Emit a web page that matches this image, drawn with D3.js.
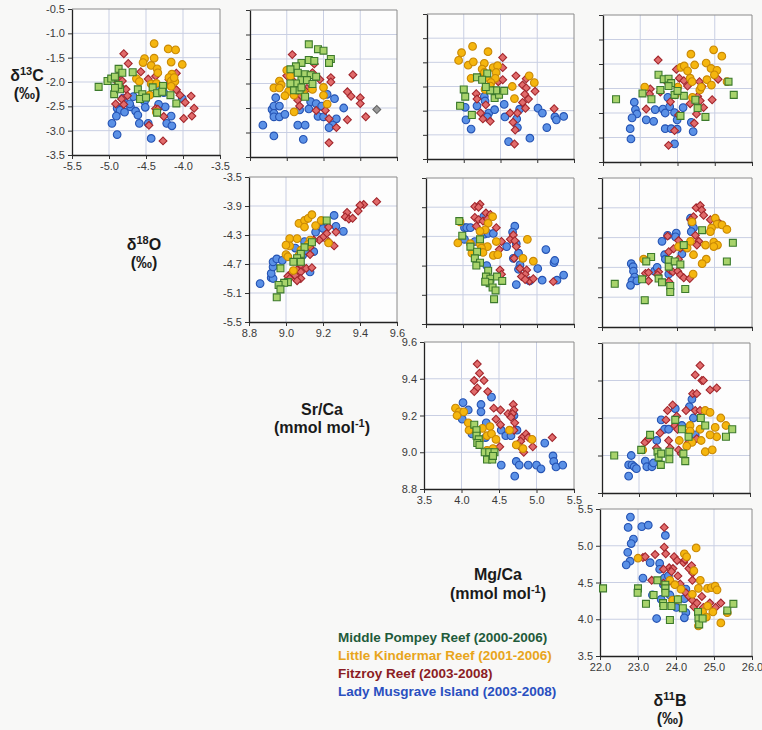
<!DOCTYPE html>
<html>
<head>
<meta charset="utf-8">
<script src="https://cdn.jsdelivr.net/npm/d3@7"></script>
<style>
  body { margin: 0; background: #f8f8f7; }
  svg { display: block; font-family: "Liberation Sans", Arial, sans-serif; }
</style>
</head>
<body>
<svg id="chart" width="762" height="730"></svg>
<script>
// ---- Reefs (series) ----
const reefNames = [
  "Middle Pompey Reef (2000-2006)",
  "Little Kindermar Reef (2001-2006)",
  "Fitzroy Reef (2003-2008)",
  "Lady Musgrave Island (2003-2008)"
];

// ---- Axis tick values ----
const ticks_d13C = [-3.5, -3.0, -2.5, -2.0, -1.5, -1.0, -0.5];
const ticks_d18O_x = [-5.5, -5.0, -4.5, -4.0, -3.5];
const ticks_d18O_y = [-5.5, -5.1, -4.7, -4.3, -3.9, -3.5];
const ticks_SrCa = [8.8, 9.0, 9.2, 9.4, 9.6];
const ticks_MgCa = [3.5, 4.0, 4.5, 5.0, 5.5];
const ticks_d11B = [22.0, 23.0, 24.0, 25.0, 26.0];

// ---- δ13C (y) vs δ18O (x) ----
const c13_o18_pompey = [[-5.14,-2.10],[-5.02,-1.98],[-4.97,-1.93],[-4.92,-1.89],[-4.87,-1.73],[-4.93,-2.25],[-4.85,-2.15],[-4.82,-1.81],[-4.87,-2.06],[-4.68,-1.80],[-4.61,-2.15],[-4.55,-2.25],[-4.58,-2.35],[-4.50,-2.32],[-4.41,-2.11],[-4.35,-2.23],[-4.27,-2.08],[-4.28,-2.20],[-4.17,-2.27],[-4.09,-2.44],[-4.35,-2.63],[-4.92,-2.12]];
const c13_o18_kindermar = [[-4.39,-1.21],[-4.20,-1.32],[-4.10,-1.34],[-4.39,-1.51],[-4.52,-1.52],[-4.54,-1.60],[-4.16,-1.59],[-4.01,-1.64],[-4.43,-1.66],[-4.35,-1.73],[-4.34,-1.81],[-4.15,-1.84],[-4.19,-1.91],[-4.63,-1.93],[-4.59,-1.99],[-4.43,-2.04],[-4.36,-2.03],[-4.16,-1.98],[-4.11,-1.99],[-4.16,-2.09],[-4.45,-2.27],[-4.36,-2.62],[-4.12,-1.91]];
const c13_o18_fitzroy = [[-4.80,-1.42],[-4.74,-1.62],[-4.57,-1.79],[-4.86,-1.84],[-4.88,-2.01],[-4.82,-1.98],[-4.83,-2.11],[-4.77,-2.15],[-4.75,-2.28],[-4.83,-2.35],[-4.80,-2.46],[-4.91,-2.45],[-4.47,-1.94],[-4.37,-1.88],[-4.19,-1.95],[-4.09,-1.82],[-4.17,-2.03],[-4.09,-2.16],[-4.04,-2.27],[-3.89,-2.29],[-3.97,-2.42],[-3.85,-2.54],[-3.88,-2.70],[-3.99,-2.75],[-4.26,-2.71],[-4.37,-2.55],[-4.46,-2.89],[-4.27,-3.21],[-4.34,-2.56]];
const c13_o18_musgrave = [[-4.89,-2.54],[-4.85,-2.58],[-4.90,-2.70],[-4.79,-2.62],[-4.71,-2.51],[-4.67,-2.30],[-4.64,-2.60],[-4.61,-2.68],[-4.96,-2.85],[-4.89,-3.08],[-4.59,-2.85],[-4.52,-2.40],[-4.51,-2.52],[-4.35,-2.16],[-4.26,-2.22],[-4.24,-2.51],[-4.33,-2.46],[-4.22,-2.85],[-4.15,-2.90],[-4.16,-2.70],[-4.47,-2.85],[-4.43,-3.16],[-4.01,-2.34],[-4.81,-2.33],[-4.72,-2.45]];

// ---- δ13C (y) vs Sr/Ca (x) ----
const c13_sr_pompey = [[9.12,-1.20],[9.17,-1.30],[9.20,-1.33],[9.24,-1.50],[9.23,-1.58],[9.12,-1.52],[9.15,-1.54],[9.08,-1.58],[9.05,-1.65],[9.02,-1.71],[9.06,-1.78],[9.10,-1.81],[9.13,-1.83],[9.16,-1.86],[9.08,-1.93],[9.11,-1.93],[9.14,-2.01],[9.05,-2.00],[9.02,-2.00],[9.04,-2.14],[9.07,-2.14],[9.10,-2.27],[9.08,-2.08]];
const c13_sr_kindermar = [[9.00,-1.73],[8.96,-1.95],[8.97,-2.03],[8.93,-2.09],[8.96,-2.09],[9.01,-2.16],[8.99,-2.25],[9.04,-2.24],[9.09,-2.18],[9.14,-2.12],[9.20,-2.08],[9.20,-2.24],[9.22,-2.42],[9.04,-2.58],[9.02,-1.85]];
const c13_sr_fitzroy = [[9.03,-1.41],[9.15,-1.60],[9.00,-1.84],[9.14,-1.78],[9.18,-1.92],[9.24,-1.88],[9.24,-1.97],[9.36,-1.82],[9.04,-1.97],[9.06,-2.03],[9.08,-2.07],[9.11,-2.10],[9.03,-2.10],[9.07,-2.27],[9.06,-2.34],[9.07,-2.46],[9.33,-2.17],[9.35,-2.26],[9.40,-2.29],[9.40,-2.41],[9.16,-2.55],[9.21,-2.55],[9.23,-2.72],[9.33,-2.74],[9.43,-2.68],[9.27,-2.90],[9.23,-3.21],[9.10,-2.15]];
const c13_sr_musgrave = [[8.94,-2.29],[8.92,-2.53],[8.93,-2.46],[8.96,-2.46],[8.93,-2.61],[8.93,-2.68],[8.96,-2.68],[8.99,-2.63],[8.87,-2.85],[8.93,-3.07],[9.06,-2.85],[9.10,-2.85],[9.09,-3.14],[9.07,-2.54],[9.12,-2.52],[9.13,-2.37],[9.16,-2.41],[9.19,-2.46],[9.22,-2.22],[9.26,-2.31],[9.31,-2.50],[9.17,-2.67],[9.20,-2.68],[9.27,-2.72],[9.25,-2.85],[9.23,-2.90]];
const c13_sr_unassigned = [[9.49,-2.53]];

// ---- δ13C (y) vs Mg/Ca (x) ----
const c13_mg_pompey = [[4.32,-1.73],[4.18,-1.81],[4.00,-2.06],[4.02,-2.21],[3.95,-2.40],[4.11,-2.59],[4.42,-2.24],[4.48,-2.17],[4.55,-2.09],[4.44,-2.08],[4.36,-2.08],[4.25,-1.86],[4.30,-2.01]];
const c13_mg_kindermar = [[3.97,-1.30],[4.12,-1.17],[4.33,-1.28],[3.93,-1.46],[4.06,-1.56],[4.13,-1.49],[4.28,-1.52],[4.25,-1.64],[4.40,-1.61],[4.46,-1.57],[4.28,-1.71],[4.44,-1.71],[4.10,-1.83],[4.31,-1.81],[4.43,-1.83],[4.37,-1.92],[4.29,-2.06],[4.36,-1.99],[4.66,-2.00],[4.89,-1.78],[4.96,-1.92],[4.69,-2.25]];
const c13_mg_fitzroy = [[4.53,-1.40],[4.53,-1.61],[4.22,-1.81],[4.47,-1.90],[4.53,-1.86],[4.71,-1.78],[4.85,-1.84],[4.80,-1.97],[4.85,-2.03],[4.97,-2.10],[4.83,-2.16],[4.88,-2.26],[4.80,-2.33],[4.84,-2.45],[4.63,-2.55],[4.73,-2.55],[4.17,-2.15],[4.18,-2.26],[4.30,-2.38],[4.23,-2.55],[4.26,-2.67],[4.36,-2.72],[4.67,-2.74],[4.70,-2.90],[4.69,-3.19],[5.23,-2.46]];
const c13_mg_musgrave = [[4.02,-2.43],[4.18,-2.40],[4.28,-2.21],[4.29,-2.30],[4.03,-2.69],[4.10,-2.88],[4.34,-2.55],[4.42,-2.48],[4.32,-2.63],[4.55,-2.37],[4.56,-2.63],[4.72,-2.67],[4.76,-2.47],[4.73,-2.85],[4.61,-3.14],[4.90,-3.07],[5.01,-2.45],[5.07,-2.55],[5.13,-2.85],[5.24,-2.63],[5.26,-2.69],[5.36,-2.62]];

// ---- δ13C (y) vs δ11B (x) ----
const c13_b11_pompey = [[22.35,-2.22],[23.06,-2.10],[23.30,-2.22],[23.49,-1.72],[23.63,-1.81],[23.76,-1.80],[23.83,-1.89],[23.54,-2.03],[23.92,-2.13],[24.17,-2.15],[24.08,-2.56],[24.48,-2.23],[24.54,-2.40],[24.75,-2.58],[25.37,-1.86],[25.51,-2.13],[23.76,-1.95],[24.00,-2.05]];
const c13_b11_kindermar = [[23.12,-1.97],[24.09,-1.57],[24.18,-1.54],[24.36,-1.30],[24.46,-1.52],[24.27,-1.64],[24.34,-1.79],[24.39,-1.86],[24.60,-2.03],[24.64,-1.97],[24.77,-1.48],[24.90,-1.59],[24.97,-1.21],[25.19,-1.34],[25.06,-1.63],[24.99,-1.72],[24.79,-1.82],[24.91,-1.93],[25.33,-1.86],[24.01,-1.97],[23.94,-2.13],[24.40,-2.18]];
const c13_b11_fitzroy = [[23.48,-1.42],[23.97,-1.61],[23.27,-2.01],[23.25,-2.11],[23.54,-2.07],[23.74,-1.89],[24.05,-1.79],[24.17,-1.84],[24.27,-1.95],[24.59,-1.86],[24.66,-1.96],[25.09,-1.81],[24.54,-2.16],[24.61,-2.25],[24.93,-2.23],[24.70,-2.39],[24.34,-2.31],[24.51,-2.52],[24.45,-2.71],[23.81,-2.27],[23.16,-2.42],[24.03,-2.54],[23.92,-2.86],[23.76,-3.16]];
const c13_b11_musgrave = [[22.84,-2.28],[22.87,-2.43],[22.91,-2.52],[22.78,-2.60],[22.73,-2.82],[22.75,-3.03],[23.16,-2.64],[23.36,-2.67],[23.40,-2.43],[23.61,-2.42],[23.67,-2.50],[23.79,-2.37],[23.74,-2.18],[24.15,-2.39],[23.92,-2.49],[23.99,-2.64],[23.67,-2.82],[23.83,-2.82],[23.99,-2.83],[23.92,-3.13],[24.42,-2.88],[24.37,-2.69]];

// ---- δ18O (y) vs Sr/Ca (x) ----
const o18_sr_pompey = [[9.22,-4.10],[9.14,-4.40],[9.10,-4.47],[9.08,-4.56],[9.06,-4.62],[9.04,-4.67],[8.97,-4.76],[9.01,-4.95],[8.99,-4.96],[8.96,-4.99],[8.97,-5.05],[8.95,-5.16],[9.08,-4.67]];
const o18_sr_kindermar = [[9.07,-4.14],[9.10,-4.10],[9.12,-4.07],[9.14,-4.02],[9.10,-4.19],[9.16,-4.17],[9.19,-4.10],[9.02,-4.35],[9.06,-4.35],[9.02,-4.45],[9.00,-4.44],[9.13,-4.37],[9.12,-4.43],[9.08,-4.51],[9.00,-4.57],[9.01,-4.60],[9.07,-4.58],[9.23,-4.41],[9.04,-4.79]];
const o18_sr_fitzroy = [[9.49,-3.84],[9.42,-3.88],[9.40,-3.89],[9.39,-3.97],[9.33,-3.99],[9.32,-4.05],[9.34,-4.08],[9.36,-4.07],[9.23,-4.19],[9.27,-4.26],[9.22,-4.28],[9.20,-4.33],[9.23,-4.39],[9.26,-4.45],[9.18,-4.37],[9.15,-4.37],[9.13,-4.47],[9.13,-4.57],[9.08,-4.71],[9.11,-4.76],[9.06,-4.78],[9.08,-4.81],[9.03,-4.82],[9.05,-4.86],[9.01,-4.87],[9.08,-4.90],[9.06,-4.93],[9.02,-4.90],[9.14,-4.75]];
const o18_sr_musgrave = [[8.86,-4.97],[8.92,-4.89],[8.93,-4.90],[8.92,-4.83],[8.93,-4.74],[8.93,-4.67],[8.95,-4.63],[8.98,-4.65],[9.05,-4.48],[9.10,-4.39],[9.09,-4.58],[9.12,-4.53],[9.15,-4.53],[9.16,-4.26],[9.20,-4.16],[9.20,-4.21],[9.26,-4.03],[9.27,-4.18],[9.31,-4.25],[9.13,-4.81]];

// ---- δ18O (y) vs Mg/Ca (x) ----
const o18_mg_pompey = [[3.95,-4.09],[3.99,-4.29],[4.23,-4.34],[4.10,-4.44],[4.19,-4.51],[4.16,-4.60],[4.23,-4.66],[4.18,-4.70],[4.34,-4.77],[4.31,-4.85],[4.37,-4.88],[4.46,-4.85],[4.53,-4.91],[4.36,-4.94],[4.40,-5.00],[4.44,-5.04],[4.42,-5.16],[4.30,-4.92]];
const o18_mg_kindermar = [[3.96,-4.10],[4.40,-4.03],[4.34,-4.12],[4.30,-4.21],[4.23,-4.23],[3.93,-4.39],[4.10,-4.40],[4.23,-4.40],[4.33,-4.44],[4.25,-4.46],[4.12,-4.53],[4.27,-4.52],[4.45,-4.37],[4.41,-4.56],[4.47,-4.55],[4.81,-4.60],[4.87,-4.34],[4.95,-4.64]];
const o18_mg_fitzroy = [[4.16,-3.89],[4.23,-3.86],[4.21,-3.90],[4.31,-3.98],[4.37,-4.00],[4.16,-4.04],[4.21,-4.07],[4.27,-4.09],[4.33,-4.06],[4.18,-4.16],[4.45,-4.18],[4.52,-4.37],[4.64,-4.34],[4.68,-4.28],[4.70,-4.36],[4.72,-4.44],[4.49,-4.48],[4.69,-4.60],[4.50,-4.76],[4.52,-4.82],[4.77,-4.74],[4.86,-4.76],[4.84,-4.82],[4.79,-4.85],[4.90,-4.91],[4.95,-4.88],[4.84,-4.89],[5.22,-4.92]];
const o18_mg_musgrave = [[4.28,-4.03],[4.02,-4.18],[4.05,-4.18],[4.10,-4.18],[4.02,-4.34],[4.16,-4.37],[4.29,-4.27],[4.34,-4.26],[4.41,-4.26],[4.18,-4.52],[4.32,-4.70],[4.70,-4.16],[4.67,-4.24],[4.59,-4.44],[4.72,-4.40],[4.75,-4.53],[4.68,-4.60],[4.77,-4.69],[4.75,-4.75],[4.72,-4.96],[4.90,-4.91],[5.01,-4.74],[5.07,-4.90],[5.12,-4.48],[5.23,-4.66],[5.24,-4.63],[5.27,-4.90],[5.36,-4.83]];

// ---- δ18O (y) vs δ11B (x) ----
const o18_b11_pompey = [[24.67,-4.20],[25.49,-4.37],[25.33,-4.62],[23.31,-4.56],[23.18,-4.62],[23.78,-4.60],[23.78,-4.69],[23.94,-4.62],[24.09,-4.66],[24.18,-4.40],[23.07,-4.86],[23.51,-4.85],[23.60,-4.90],[23.82,-4.95],[23.82,-5.03],[24.22,-4.99],[23.14,-5.14],[22.34,-4.92]];
const o18_b11_kindermar = [[24.40,-4.09],[25.02,-4.04],[25.07,-4.12],[25.20,-4.13],[25.33,-4.19],[24.92,-4.17],[24.89,-4.22],[24.36,-4.35],[24.76,-4.40],[24.98,-4.36],[25.08,-4.40],[24.98,-4.42],[24.27,-4.44],[24.44,-4.53],[24.78,-4.59],[24.67,-4.65],[24.43,-4.79],[23.11,-4.59],[24.04,-4.42]];
const o18_b11_fitzroy = [[24.51,-3.90],[24.62,-3.87],[24.66,-3.93],[24.71,-4.00],[24.44,-4.02],[24.37,-4.06],[24.89,-4.06],[25.07,-4.08],[25.16,-4.12],[23.75,-4.28],[24.04,-4.34],[24.49,-4.27],[24.58,-4.35],[24.53,-4.40],[23.78,-4.49],[23.91,-4.45],[24.09,-4.44],[24.04,-4.59],[23.82,-4.74],[23.89,-4.76],[24.02,-4.75],[24.09,-4.80],[24.18,-4.84],[24.34,-4.85],[23.16,-4.78],[23.24,-4.77],[23.51,-4.76],[23.48,-4.80],[23.24,-4.88],[23.78,-4.89]];
const o18_b11_musgrave = [[22.78,-4.65],[22.83,-4.69],[22.84,-4.75],[22.87,-4.83],[22.80,-4.88],[22.76,-4.94],[22.93,-4.88],[23.40,-4.75],[23.47,-4.70],[23.60,-4.35],[23.75,-4.27],[23.98,-4.24],[23.96,-4.29],[23.67,-4.53],[23.69,-4.59],[23.78,-4.79],[24.13,-4.52],[24.36,-4.04],[24.40,-4.11],[24.44,-4.17],[24.38,-4.22]];

// ---- Sr/Ca (y) vs Mg/Ca (x) ----
const sr_mg_pompey = [[4.17,9.15],[4.20,9.12],[4.20,9.09],[4.23,9.07],[4.21,9.05],[4.24,9.04],[4.31,9.00],[4.37,9.00],[4.44,9.00],[4.34,8.96],[4.41,8.96],[4.42,8.98]];
const sr_mg_kindermar = [[3.92,9.24],[3.97,9.22],[3.94,9.20],[4.03,9.22],[4.09,9.16],[4.10,9.12],[4.20,9.11],[4.24,9.07],[4.28,9.13],[4.38,9.14],[4.34,9.09],[4.40,9.10],[4.46,9.07],[4.34,9.01],[4.42,9.02],[4.64,9.12],[4.73,9.04],[4.82,9.02],[4.94,9.07]];
const sr_mg_fitzroy = [[4.21,9.48],[4.24,9.43],[4.17,9.39],[4.30,9.39],[4.21,9.35],[4.17,9.33],[4.35,9.33],[4.43,9.24],[4.52,9.23],[4.46,9.18],[4.52,9.15],[4.62,9.21],[4.69,9.26],[4.70,9.23],[4.68,9.21],[4.66,9.19],[4.71,9.16],[4.70,9.12],[4.51,9.03],[4.81,9.08],[4.86,9.10],[4.79,9.06],[4.78,9.03],[4.83,9.00],[4.89,9.08],[4.95,9.03],[5.21,9.08]];
const sr_mg_musgrave = [[4.02,9.27],[4.09,9.23],[4.01,9.18],[4.14,9.10],[4.26,9.26],[4.26,9.22],[4.33,9.16],[4.32,9.08],[4.40,9.30],[4.53,9.12],[4.59,9.09],[4.66,9.09],[4.74,9.12],[4.70,9.20],[4.53,8.93],[4.73,8.95],[4.77,8.93],[4.71,8.87],[4.89,8.93],[5.00,8.93],[5.06,8.91],[5.11,9.05],[5.22,8.98],[5.23,8.95],[5.26,8.92],[5.35,8.93]];

// ---- Sr/Ca (y) vs δ11B (x) ----
const sr_b11_pompey = [[22.33,9.00],[23.06,9.03],[23.30,9.11],[23.50,9.02],[23.53,8.99],[23.60,9.01],[23.59,8.95],[23.82,8.98],[23.82,9.02],[23.98,9.19],[24.16,9.14],[24.25,8.97],[24.20,9.01],[24.34,9.10],[24.67,9.20],[24.79,9.16],[25.35,9.10],[25.52,9.14]];
const sr_b11_kindermar = [[23.10,9.03],[24.38,9.16],[24.65,9.14],[24.79,9.24],[24.92,9.23],[25.21,9.20],[25.35,9.16],[25.06,9.15],[25.10,9.10],[24.92,9.11],[24.68,9.08],[24.43,9.07],[24.29,9.05],[24.09,9.08],[24.79,9.02],[24.98,9.03],[24.38,9.13]];
const sr_b11_fitzroy = [[24.65,9.48],[24.52,9.43],[24.70,9.40],[24.74,9.40],[24.92,9.35],[25.10,9.36],[24.45,9.33],[24.56,9.33],[23.91,9.27],[23.77,9.24],[24.02,9.21],[23.73,9.19],[24.27,9.24],[24.52,9.24],[24.65,9.24],[23.97,9.16],[24.04,9.14],[23.57,9.12],[23.21,9.08],[23.16,9.07],[23.26,9.09],[23.47,9.04],[23.80,9.08],[23.84,9.04],[24.07,9.03],[24.14,9.01],[24.34,9.07],[24.56,9.09]];
const sr_b11_musgrave = [[22.79,9.00],[22.72,8.95],[22.81,8.95],[22.87,8.94],[22.72,8.89],[22.93,8.93],[23.17,8.97],[23.21,8.94],[23.35,8.94],[23.39,8.96],[23.48,9.08],[23.60,9.19],[23.69,9.14],[23.80,9.14],[23.98,9.25],[24.16,9.16],[24.36,9.26],[24.43,9.30],[24.47,9.20],[24.52,9.11]];

// ---- Mg/Ca (y) vs δ11B (x) ----
const mg_b11_pompey = [[22.08,4.42],[23.00,4.42],[22.99,4.36],[23.21,4.21],[23.41,4.33],[23.51,4.53],[23.72,4.47],[23.72,4.42],[23.72,4.36],[23.66,4.22],[23.67,4.18],[23.88,4.18],[23.84,3.99],[24.05,4.27],[24.18,4.15],[24.58,4.10],[24.59,4.01],[24.61,3.93],[24.70,4.01],[25.35,4.12],[25.51,4.21]];
const mg_b11_kindermar = [[23.00,4.83],[24.22,4.89],[24.28,4.85],[24.53,4.97],[24.47,4.66],[23.84,4.53],[23.97,4.47],[24.13,4.41],[23.91,4.26],[24.05,4.27],[24.43,4.34],[24.59,4.42],[24.64,4.53],[24.83,4.42],[24.93,4.43],[25.03,4.45],[25.08,4.40],[24.83,4.18],[24.70,4.10],[24.80,4.03],[24.59,3.91],[24.97,4.10],[25.18,3.95],[25.35,4.09]];
const mg_b11_fitzroy = [[23.69,5.25],[23.69,4.98],[23.73,4.89],[23.45,4.88],[23.13,4.84],[23.19,4.85],[23.95,4.85],[24.03,4.80],[23.82,4.70],[23.67,4.68],[23.92,4.69],[23.88,4.65],[23.36,4.53],[23.67,4.49],[23.84,4.52],[24.05,4.59],[24.20,4.77],[24.24,4.81],[24.34,4.69],[24.41,4.73],[24.44,4.63],[24.43,4.53],[24.11,4.48],[24.26,4.36],[24.34,4.31],[24.43,4.26],[24.47,4.17],[24.55,4.22],[24.68,4.31],[24.72,4.16],[24.89,4.22],[25.04,4.16],[25.18,4.22]];
const mg_b11_musgrave = [[22.80,5.39],[22.74,5.25],[23.10,5.26],[23.27,5.28],[22.88,5.09],[22.82,5.03],[22.73,4.91],[22.79,4.79],[22.69,4.74],[23.32,4.77],[23.13,4.56],[23.72,5.14],[23.57,4.76],[23.57,4.68],[23.69,4.56],[23.80,4.59],[23.67,4.47],[23.38,4.33],[23.49,4.01],[23.61,4.27],[23.84,4.33],[24.01,4.16],[24.26,4.41],[24.22,4.28],[24.26,4.09],[24.22,4.02]];

// ---- Variables: domains and tick sets ----
const vars = {
  d13C: { domain: [-3.5, -0.5], ticksX: ticks_d13C, ticksY: ticks_d13C },
  d18O: { domain: [-5.5, -3.5], ticksX: ticks_d18O_x, ticksY: ticks_d18O_y },
  SrCa: { domain: [8.8, 9.6], ticksX: ticks_SrCa, ticksY: ticks_SrCa },
  MgCa: { domain: [3.5, 5.5], ticksX: ticks_MgCa, ticksY: ticks_MgCa },
  d11B: { domain: [22, 26], ticksX: ticks_d11B, ticksY: ticks_d11B }
};

// Series styling, in the order of reefNames
const reefText   = ["#1f5b3b", "#e8a51c", "#8b1d24", "#2a4fc0"];
const reefFill   = ["#a8d36b", "#f5b60e", "#e16b6b", "#5b91e6"];
const reefStroke = ["#3c7a2c", "#c98906", "#a2262c", "#2553b3"];
const reefShape  = ["square", "circle", "diamond", "circle"];
const drawOrder  = [3, 2, 1, 0];

// Panel layout: [left, right, top, bottom] in pixels
const panels = [
  { x: "d18O", y: "d13C", box: [72, 220, 9, 155],   lx: true,  ly: true,  series: [c13_o18_pompey, c13_o18_kindermar, c13_o18_fitzroy, c13_o18_musgrave] },
  { x: "SrCa", y: "d13C", box: [250, 397, 10, 157], lx: false, ly: false, series: [c13_sr_pompey, c13_sr_kindermar, c13_sr_fitzroy, c13_sr_musgrave], extra: c13_sr_unassigned },
  { x: "MgCa", y: "d13C", box: [427, 574, 14, 159], lx: false, ly: false, series: [c13_mg_pompey, c13_mg_kindermar, c13_mg_fitzroy, c13_mg_musgrave] },
  { x: "d11B", y: "d13C", box: [603, 752, 15, 162], lx: false, ly: false, series: [c13_b11_pompey, c13_b11_kindermar, c13_b11_fitzroy, c13_b11_musgrave] },
  { x: "SrCa", y: "d18O", box: [249, 397, 177, 322], lx: true, ly: true,  series: [o18_sr_pompey, o18_sr_kindermar, o18_sr_fitzroy, o18_sr_musgrave] },
  { x: "MgCa", y: "d18O", box: [426, 574, 178, 324], lx: false, ly: false, series: [o18_mg_pompey, o18_mg_kindermar, o18_mg_fitzroy, o18_mg_musgrave] },
  { x: "d11B", y: "d18O", box: [602, 752, 178, 327], lx: false, ly: false, series: [o18_b11_pompey, o18_b11_kindermar, o18_b11_fitzroy, o18_b11_musgrave] },
  { x: "MgCa", y: "SrCa", box: [424, 574, 342, 489], lx: true, ly: true,  series: [sr_mg_pompey, sr_mg_kindermar, sr_mg_fitzroy, sr_mg_musgrave] },
  { x: "d11B", y: "SrCa", box: [602, 750, 343, 493], lx: false, ly: false, series: [sr_b11_pompey, sr_b11_kindermar, sr_b11_fitzroy, sr_b11_musgrave] },
  { x: "d11B", y: "MgCa", box: [600, 752, 509, 656], lx: true, ly: true,  series: [mg_b11_pompey, mg_b11_kindermar, mg_b11_fitzroy, mg_b11_musgrave] }
];

const svg = d3.select("#chart");
const fmt = d => d.toFixed(1);

const symbolFor = {
  circle:  d3.symbol().type(d3.symbolCircle).size(46),
  square:  d3.symbol().type(d3.symbolSquare).size(48),
  diamond: d3.symbol().type(d3.symbolSquare).size(31)
};

panels.forEach(p => {
  const [x0, x1, y0, y1] = p.box;
  const vx = vars[p.x], vy = vars[p.y];
  const xs = d3.scaleLinear().domain(vx.domain).range([x0, x1]);
  const ys = d3.scaleLinear().domain(vy.domain).range([y1, y0]);
  const g = svg.append("g");

  g.append("rect").attr("x", x0).attr("y", y0).attr("width", x1 - x0).attr("height", y1 - y0)
    .attr("fill", "#fdfdfd");

  // gridlines
  g.append("g").selectAll("line").data(vx.ticksX.slice(1, -1)).join("line")
    .attr("x1", d => xs(d)).attr("x2", d => xs(d)).attr("y1", y0).attr("y2", y1)
    .attr("stroke", "#c9cfe3").attr("stroke-width", 1);
  g.append("g").selectAll("line").data(vy.ticksY.slice(1, -1)).join("line")
    .attr("y1", d => ys(d)).attr("y2", d => ys(d)).attr("x1", x0).attr("x2", x1)
    .attr("stroke", "#c9cfe3").attr("stroke-width", 1);

  // frame: light top/right edges
  g.append("path").attr("d", `M${x0},${y0}H${x1}V${y1}`)
    .attr("fill", "none").attr("stroke", "#8a8a8a").attr("stroke-width", 1);

  // axes
  const ax = d3.axisBottom(xs).tickValues(vx.ticksX).tickSize(4).tickSizeOuter(0)
    .tickFormat(p.lx ? fmt : "").tickPadding(3);
  const ay = d3.axisLeft(ys).tickValues(vy.ticksY).tickSize(4).tickSizeOuter(0)
    .tickFormat(p.ly ? fmt : "").tickPadding(3);
  const gx = g.append("g").attr("transform", `translate(0,${y1})`).call(ax);
  const gy = g.append("g").attr("transform", `translate(${x0},0)`).call(ay);
  [gx, gy].forEach(a => {
    a.select(".domain").attr("stroke", "#222").attr("stroke-width", 1.3);
    a.selectAll(".tick line").attr("stroke", "#333");
    a.selectAll(".tick text").attr("fill", "#3a3a3a").attr("font-size", 11)
      .attr("font-family", "'Liberation Sans', Arial, sans-serif");
  });

  // markers
  drawOrder.forEach(i => {
    g.append("g").selectAll("path").data(p.series[i]).join("path")
      .attr("d", symbolFor[reefShape[i]])
      .attr("transform", d => `translate(${xs(d[0])},${ys(d[1])})` + (reefShape[i] === "diamond" ? " rotate(45)" : ""))
      .attr("fill", reefFill[i]).attr("stroke", reefStroke[i]).attr("stroke-width", 1.1);
  });
  if (p.extra) {
    g.append("g").selectAll("path").data(p.extra).join("path")
      .attr("d", symbolFor.diamond)
      .attr("transform", d => `translate(${xs(d[0])},${ys(d[1])}) rotate(45)`)
      .attr("fill", "#9a9a9a").attr("stroke", "#666").attr("stroke-width", 1.1);
  }
});

// Variable titles on the diagonal
const titles = [
  { parts: [["δ"], ["13", true], ["C"]], unit: [["(‰)"]], x: 27, y: 81, dy: 18 },
  { parts: [["δ"], ["18", true], ["O"]], unit: [["(‰)"]], x: 144, y: 250, dy: 18 },
  { parts: [["Sr/Ca"]], unit: [["(mmol mol"], ["-1", true], [")"]], x: 322, y: 415, dy: 18 },
  { parts: [["Mg/Ca"]], unit: [["(mmol mol"], ["-1", true], [")"]], x: 498, y: 580, dy: 19 },
  { parts: [["δ"], ["11", true], ["B"]], unit: [["(‰)"]], x: 670, y: 706, dy: 18 }
];

function richText(parent, parts, x, y) {
  const t = parent.append("text").attr("x", x).attr("y", y)
    .attr("text-anchor", "middle").attr("font-weight", "bold")
    .attr("font-size", 16).attr("fill", "#1a1a1a");
  let raised = false;
  parts.forEach(([s, sup]) => {
    const ts = t.append("tspan").text(s);
    if (sup && !raised) { ts.attr("dy", -6).attr("font-size", 11); raised = true; }
    else if (!sup && raised) { ts.attr("dy", 6); raised = false; }
  });
}
titles.forEach(tl => {
  richText(svg, tl.parts, tl.x, tl.y);
  richText(svg, tl.unit, tl.x, tl.y + tl.dy);
});

// Legend
svg.append("g").selectAll("text").data(reefNames).join("text")
  .attr("x", 338).attr("y", (d, i) => 642 + i * 18)
  .attr("font-size", 13.5).attr("font-weight", "bold")
  .attr("fill", (d, i) => reefText[i]).text(d => d);
</script>
</body>
</html>
